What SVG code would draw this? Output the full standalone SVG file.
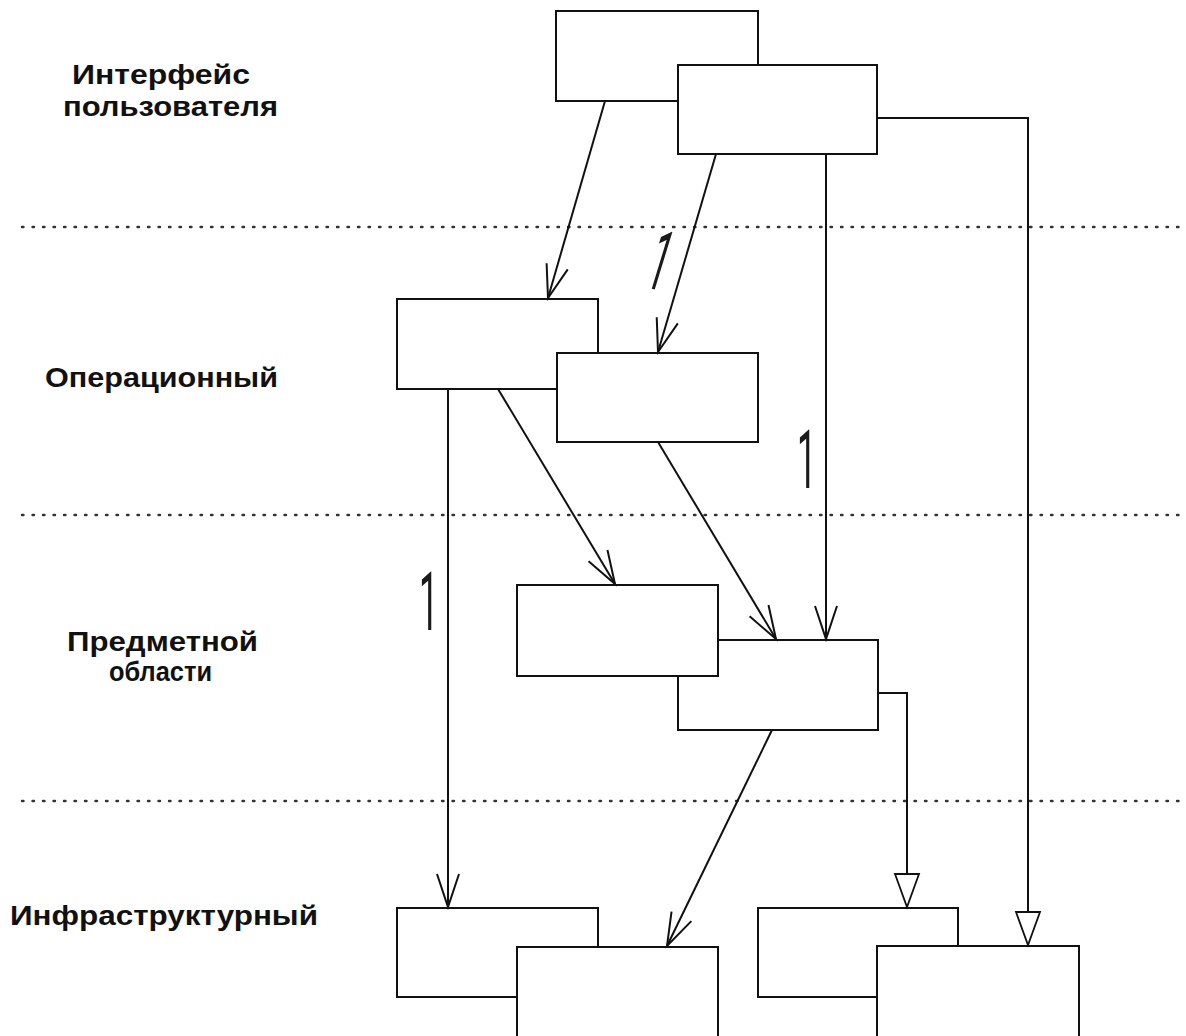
<svg xmlns="http://www.w3.org/2000/svg" width="1186" height="1036" viewBox="0 0 1186 1036">
<style>
.box{fill:#fff;stroke:#111;stroke-width:2}
.lbl{font-family:"Liberation Sans",Arial,sans-serif;font-weight:bold;font-size:27px;fill:#111}
.conn{fill:none;stroke:#111;stroke-width:2}
.dot{stroke:#333;stroke-width:2.4;stroke-dasharray:1.5 9;stroke-linecap:round}
.one{font-family:Roboto,"Liberation Sans",sans-serif;font-weight:400;font-size:82px;fill:#1a1a1a}
</style>
<defs>
<marker id="open" markerUnits="userSpaceOnUse" markerWidth="40" markerHeight="30" refX="0" refY="0" viewBox="-36 -15 40 30" orient="auto">
<path d="M-33,-11 L0,0 L-33,11" fill="none" stroke="#111" stroke-width="2"/>
</marker>
<marker id="tri" markerUnits="userSpaceOnUse" markerWidth="40" markerHeight="34" refX="0" refY="0" viewBox="-36 -17 40 34" orient="auto">
<path d="M-33,-12 L0,0 L-33,12 Z" fill="#fff" stroke="#111" stroke-width="1.8"/>
</marker>
</defs>
<rect width="1186" height="1036" fill="#fff"/>
<g id="separators">
<line class="dot" x1="22" y1="227" x2="1186" y2="227"/>
<line class="dot" x1="22" y1="515" x2="1186" y2="515"/>
<line class="dot" x1="22" y1="801" x2="1186" y2="801"/>
</g>
<g id="layer-labels">
<text class="lbl" x="72" y="84" textLength="178" lengthAdjust="spacingAndGlyphs">Интерфейс</text>
<text class="lbl" x="63" y="116" textLength="215" lengthAdjust="spacingAndGlyphs">пользователя</text>
<text class="lbl" x="45" y="387" textLength="233" lengthAdjust="spacingAndGlyphs">Операционный</text>
<text class="lbl" x="67" y="651" textLength="191" lengthAdjust="spacingAndGlyphs">Предметной</text>
<text class="lbl" x="109" y="681" textLength="103" lengthAdjust="spacingAndGlyphs">области</text>
<text class="lbl" x="10" y="925" textLength="308" lengthAdjust="spacingAndGlyphs">Инфраструктурный</text>
</g>
<g id="node-ui1"><rect class="box" x="556" y="11" width="202" height="90"/></g>
<g id="node-ui2"><rect class="box" x="678" y="65" width="199" height="89"/></g>
<g id="node-op1"><rect class="box" x="397" y="299" width="201" height="90"/></g>
<g id="node-op2"><rect class="box" x="557" y="353" width="201" height="89"/></g>
<g id="node-dom2"><rect class="box" x="678" y="640" width="200" height="90"/></g>
<g id="node-dom1"><rect class="box" x="517" y="585" width="201" height="91"/></g>
<g id="node-inf1"><rect class="box" x="397" y="908" width="201" height="89"/></g>
<g id="node-inf2"><rect class="box" x="517" y="947" width="201" height="95"/></g>
<g id="node-inf3"><rect class="box" x="758" y="908" width="200" height="89"/></g>
<g id="node-inf4"><rect class="box" x="877" y="946" width="202" height="96"/></g>
<g id="connectors">
<line class="conn" x1="605" y1="101" x2="548" y2="298" marker-end="url(#open)"/>
<line class="conn" x1="716" y1="154" x2="658" y2="352" marker-end="url(#open)"/>
<line class="conn" x1="826" y1="154" x2="826" y2="639" marker-end="url(#open)"/>
<polyline class="conn" points="877,118 1028,118 1028,945" marker-end="url(#tri)"/>
<line class="conn" x1="448" y1="389" x2="448" y2="907" marker-end="url(#open)"/>
<line class="conn" x1="498" y1="389" x2="615" y2="584" marker-end="url(#open)"/>
<line class="conn" x1="658" y1="442" x2="776" y2="639" marker-end="url(#open)"/>
<line class="conn" x1="772" y1="730" x2="667" y2="946" marker-end="url(#open)"/>
<polyline class="conn" points="878,693 907,693 907,907" marker-end="url(#tri)"/>
</g>
<g id="multiplicities">
<text class="one" transform="translate(643,286) rotate(17) scale(0.42,1.03)">1</text>
<text class="one" transform="translate(797,488) scale(0.42,1)">1</text>
<text class="one" transform="translate(419,630) scale(0.42,1)">1</text>
</g>
</svg>
